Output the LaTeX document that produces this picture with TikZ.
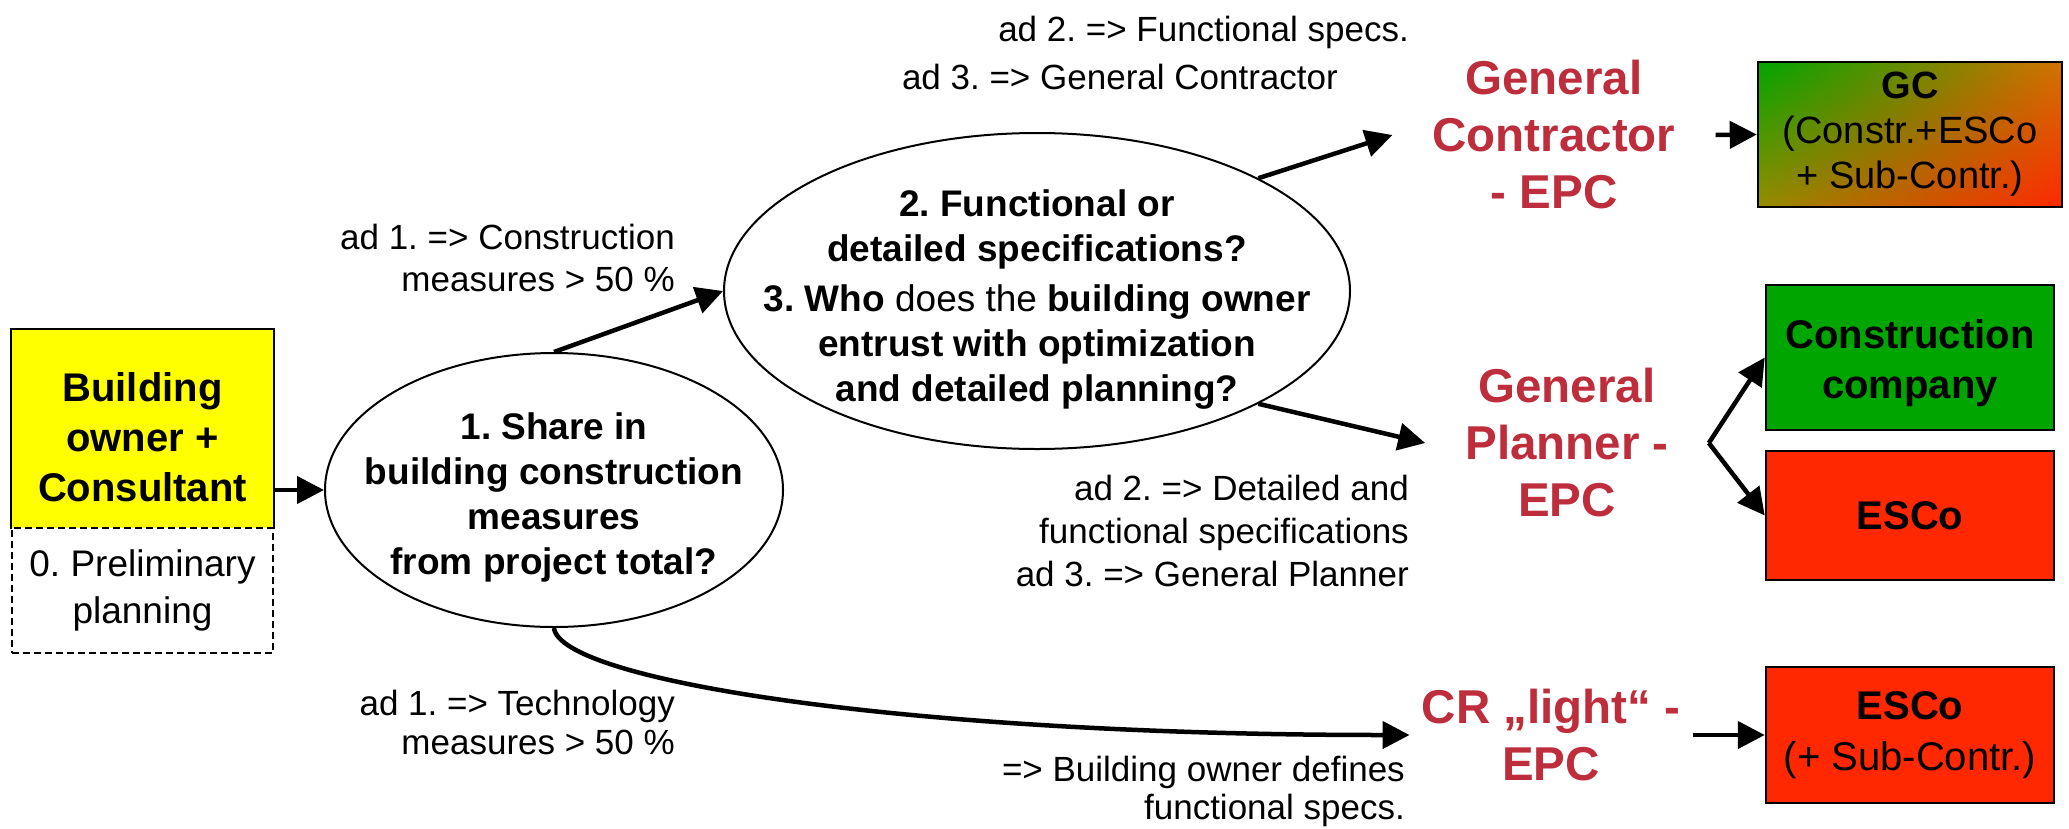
\documentclass[tikz,border=0pt]{standalone}
\usepackage{fontspec}
\setmainfont{Liberation Sans}
\usetikzlibrary{arrows.meta,shapes.geometric,shadings}
\definecolor{epcred}{RGB}{190,45,60}
\definecolor{ownyellow}{RGB}{255,255,0}
\definecolor{cgreen}{RGB}{0,165,0}
\definecolor{ered}{RGB}{255,40,0}
\definecolor{gcolive}{RGB}{150,140,0}
\definecolor{gcorange}{RGB}{210,115,0}
\newcommand{\fsz}[2]{\fontsize{#1}{#2}\selectfont}
\frenchspacing

\begin{document}
\begin{tikzpicture}[x=1pt,y=-1pt]
  \tikzset{arr/.style={line width=4.5pt,-{Triangle[length=27pt,width=27pt]}},
           lbl/.style={font=\fsz{35}{42},inner sep=0pt,align=right},
           epc/.style={font=\fsz{47.5}{57}\bfseries,text=epcred,align=center,inner xsep=40pt,inner ysep=0pt},
           box/.style={draw,line width=2.5pt,align=center,inner sep=0pt,minimum width=288pt},
           oval/.style={draw,ellipse,line width=2pt,inner sep=0pt}}
  \useasboundingbox (0,0) rectangle (2069,828);
  \node[box,draw=none,fill=ownyellow,minimum width=261pt,minimum height=198pt,font=\fsz{40}{50}\bfseries] (owner) at (142.5,429) {\rule{0pt}{46pt}Building\\owner +\\Consultant};
  \node[box,dashed,dash pattern=on 7pt off 4pt,line width=1.5pt,minimum width=261pt,minimum height=125pt,font=\fsz{37}{47}] (prelim) at (142.5,590.5) {0. Preliminary\\planning};
  \draw[line width=2pt] (owner.south west) -- (owner.north west) -- (owner.north east) -- (owner.south east);
  \node[oval,minimum width=458pt,minimum height=274pt] (share) at (554,490) {};
  \node[font=\fsz{37}{45}\bfseries,align=center] (sharetxt) at (554,497) {1. Share in\\building construction\\measures\\from project total?};
  \node[oval,minimum width=626pt,minimum height=316pt] (specs) at (1037,291) {};
  \node[font=\fsz{37}{45},align=center] (specstxt) at (1037,300) {\textbf{2. Functional or}\\\textbf{detailed specifications?}\\[5pt]\textbf{3. Who} does the \textbf{building owner}\\\textbf{entrust with optimization}\\\textbf{and detailed planning?}};
  \node[epc] (gc) at (1554,135) {General\\Contractor\\- EPC};
  \node[epc] (gp) at (1567,443) {General\\Planner -\\EPC};
  \node[epc,inner xsep=12pt] (cr) at (1551,735) {CR „light“ -\\EPC};
  \node[box,minimum width=304pt,minimum height=145pt,shade,shading=bilinear interpolation,upper left=cgreen,upper right=gcorange,lower left=gcolive,lower right=ered,font=\fsz{38}{45}] (gcbox) at (1910,134.5) {\textbf{GC}\\(Constr.+ESCo\\+ Sub-Contr.)};
  \node[box,fill=cgreen,minimum height=145pt,font=\fsz{40}{50}\bfseries] (constr) at (1910,357.5) {\rule{0pt}{40pt}Construction\\company};
  \node[box,fill=ered,minimum height=129pt,font=\fsz{40}{48}\bfseries] (esco) at (1910,515.5) {ESCo};
  \node[box,fill=ered,minimum height=136pt,font=\fsz{40}{51}] (escosub) at (1910,735) {\textbf{ESCo}\\(+ Sub-Contr.)};
  \node[lbl,anchor=base east] (adgc) at (1409,41) {ad 2. => Functional specs.};
  \node[lbl,anchor=base east] (adgc3) at (1338,89) {ad 3. => General Contractor};
  \node[lbl,anchor=north east] (adconstr) at (675,223.5) {ad 1. => Construction\\measures > 50 \%};
  \node[lbl,anchor=north east,font=\fsz{35}{43}] (adgp) at (1409,474.5) {ad 2. => Detailed and\\functional specifications\\ad 3. => General Planner};
  \node[lbl,anchor=north east,font=\fsz{35}{39}] (adtech) at (675,689.5) {ad 1. => Technology\\measures > 50 \%};
  \node[lbl,anchor=north east,font=\fsz{35}{38}] (addef) at (1405,755.5) {=> Building owner defines\\functional specs.};
  \draw[arr] (owner.east |- share.west) -- (share.west);
  \draw[arr] (share.north) -- (specs.west);
  \draw[arr] (specs.27) -- (gc.west);
  \draw[arr] (specs.-27) -- (gp.west);
  \draw[arr] (gc.east) -- (gcbox.west);
  \draw[arr] (gp.east) -- (constr.west);
  \draw[arr] (gp.east) -- (esco.west);
  \draw[arr] (share.south) .. controls (560,680) and (900,735) .. (cr.west);
  \draw[arr] (cr.east) -- (escosub.west);
\end{tikzpicture}
\end{document}
